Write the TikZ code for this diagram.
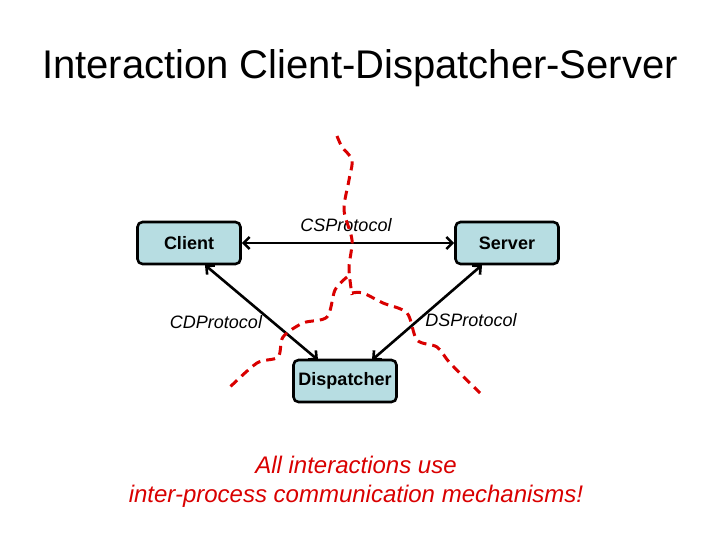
\documentclass[tikz,border=0pt]{standalone}
\usepackage{fontspec}
\setmainfont{Liberation Sans}
\usetikzlibrary{arrows.meta}
\begin{document}
\begin{tikzpicture}[x=1pt,y=-1pt,
  box/.style={draw=black,line width=2.6pt,rounded corners=5pt,fill={rgb,255:red,183;green,221;blue,226},minimum width=103pt,minimum height=42pt,font=\bfseries\fontsize{18}{20}\selectfont},
  lab/.style={font=\itshape\fontsize{18}{20}\selectfont},
  conn/.style={line width=2.6pt,<->,>={Straight Barb[length=6pt,width=12pt]}},
  cut/.style={red!85!black,line width=3pt,dash pattern=on 9pt off 6pt}]
\useasboundingbox (0,0) rectangle (720,540);
\node (title) at (360,68) {\fontsize{40}{44}\selectfont Interaction Client-Dispatcher-Server};
\node[box] (client) at (189,243) {Client};
\node[box] (server) at (507,243) {Server};
\node[box] (disp) at (345,381) {Dispatcher};
\draw[conn] (client.east) -- (server.west);
\draw[conn] (205,265) -- (318,360);
\draw[conn] (482,265) -- (372,360);
\node[lab] (cs) at (346,225) {CSProtocol};
\node[lab] (cd) at (216,322) {CDProtocol};
\node[lab] (ds) at (471,320) {DSProtocol};
\draw[cut] plot[smooth] coordinates {(337,136) (342,147) (352,160) (349,180) (344,210) (352,240) (349,268) (352,295)};
\draw[cut] plot[smooth] coordinates {(347,277) (335,290) (327,317) (303,323) (283,337) (278,357) (257,363) (230,387)};
\draw[cut] plot[smooth] coordinates {(352,293) (363,293) (383,303) (407,313) (417,340) (437,347) (450,363) (480,393)};
\node[text=red!85!black,font=\itshape\fontsize{24}{29}\selectfont,align=center] (note) at (356,482) {All interactions use\\inter-process communication mechanisms!};
\end{tikzpicture}
\end{document}
